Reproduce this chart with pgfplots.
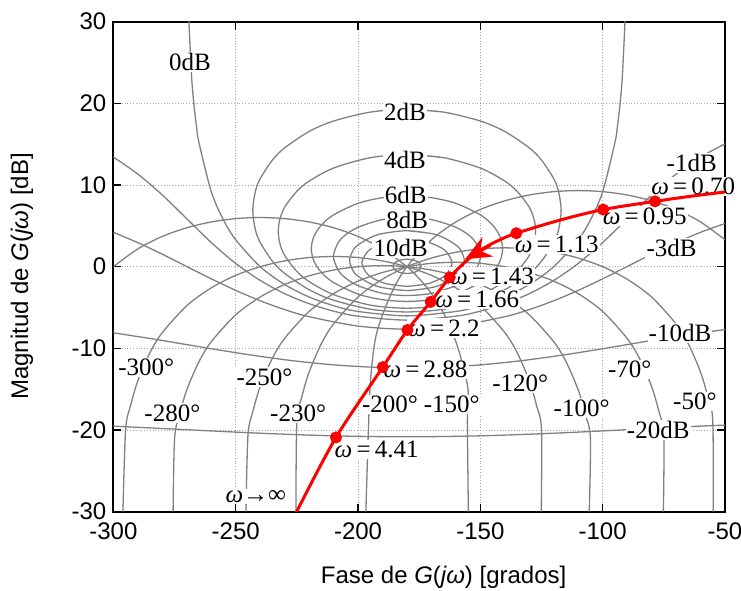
\documentclass[border=0pt]{standalone}
\usepackage{pgfplots}
\pgfplotsset{compat=1.18}
\usepackage{fontspec}
\setmainfont{Liberation Sans}
\newfontfamily\lblfont{Liberation Serif}
\usetikzlibrary{arrows.meta}
\tikzset{lbl/.style={fill=white, inner sep=0.6pt, font=\lblfont\fontsize{12.5}{14}\selectfont}}
\pgfplotsset{ncurve/.style={gray, line width=0.65pt, smooth}}

\begin{document}
\begin{tikzpicture}
\useasboundingbox (-56.7pt,-39.2pt) rectangle (313.8pt,255.85pt);
\begin{axis}[
  scale only axis, width=305.8pt, height=245pt,
  xmin=-300, xmax=-50, ymin=-30, ymax=30,
  xtick={-300,-250,...,-50}, ytick={-30,-20,...,30},
  tick align=inside, tick pos=both, major tick length=4pt,
  tick style={black, line width=0.6pt},
  grid=major, major grid style={densely dotted, gray!70, line width=0.4pt},
  axis line style={black, line width=1pt},
  /pgf/number format/assume math mode=true,
  ticklabel style={font=\fontsize{12}{14}\selectfont},
  xticklabel style={yshift=-2pt},
  xlabel={Fase de \textit{G}(\textit{jω}) [grados]},
  ylabel={Magnitud de \textit{G}(\textit{jω}) [dB]},
  xlabel style={font=\fontsize{12}{14}\selectfont, at={(axis description cs:0.54,-0.1333)}, anchor=center},
  ylabel style={font=\fontsize{12}{14}\selectfont, at={(axis description cs:-0.1494,0.48)}, anchor=center},
  clip mode=individual,
]
% closed-loop magnitude contours
% 0 dB
\addplot[ncurve] coordinates {(-269.1,30.06) (-269,29.14) (-268,23.12) (-267,19.60) (-266,17.11) (-265,15.17) (-260,9.19) (-255,5.72) (-250,3.30) (-240,0) (-230,-2.18) (-220,-3.71) (-210,-4.77) (-200,-5.48) (-180,-6.02) (-160,-5.48) (-150,-4.77) (-140,-3.71) (-130,-2.18) (-120,0) (-110,3.30) (-105,5.72) (-100,9.19) (-95,15.17) (-94,17.11) (-93,19.60) (-92,23.12) (-91,29.14) (-90.9,30.06)};
% 1 dB
\addplot[ncurve] coordinates {(-180,19.27) (-165,18.93) (-150,17.84) (-140,16.56) (-130,14.55) (-125,13.06) (-120,10.77) (-118,9.17) (-116.97,6.87) (-118,4.57) (-120,2.97) (-125,0.68) (-130,-0.82) (-140,-2.82) (-150,-4.10) (-165,-5.20) (-180,-5.54) (-195,-5.20) (-210,-4.10) (-220,-2.82) (-230,-0.82) (-235,0.68) (-240,2.97) (-242,4.57) (-243.03,6.87) (-242,9.17) (-240,10.77) (-235,13.06) (-230,14.55) (-220,16.56) (-210,17.84) (-195,18.93) (-180,19.27) (-165,18.93)};
% 2 dB
\addplot[ncurve] coordinates {(-180,13.74) (-165,13.35) (-150,12.08) (-140,10.48) (-135,9.24) (-130,7.28) (-128,5.75) (-127.41,4.33) (-128,2.91) (-130,1.38) (-135,-0.58) (-140,-1.82) (-150,-3.42) (-165,-4.70) (-180,-5.08) (-195,-4.70) (-210,-3.42) (-220,-1.82) (-225,-0.58) (-230,1.38) (-232,2.91) (-232.59,4.33) (-232,5.75) (-230,7.28) (-225,9.24) (-220,10.48) (-210,12.08) (-195,13.35) (-180,13.74) (-165,13.35)};
% 4 dB
\addplot[ncurve] coordinates {(-180,8.66) (-170,8.45) (-160,7.76) (-150,6.35) (-145,5.09) (-142,3.74) (-140.88,2.20) (-142,0.67) (-145,-0.69) (-150,-1.94) (-160,-3.35) (-170,-4.04) (-180,-4.25) (-190,-4.04) (-200,-3.35) (-210,-1.94) (-215,-0.69) (-218,0.67) (-219.12,2.20) (-218,3.74) (-215,5.09) (-210,6.35) (-200,7.76) (-190,8.45) (-180,8.66) (-170,8.45)};
% 6 dB
\addplot[ncurve] coordinates {(-180,6.04) (-170,5.77) (-160,4.83) (-155,3.92) (-152,3.01) (-149.92,1.26) (-152,-0.49) (-155,-1.41) (-160,-2.32) (-170,-3.26) (-180,-3.53) (-190,-3.26) (-200,-2.32) (-205,-1.41) (-208,-0.49) (-210.08,1.26) (-208,3.01) (-205,3.92) (-200,4.83) (-190,5.77) (-180,6.04) (-170,5.77)};
% 8 dB
\addplot[ncurve] coordinates {(-180,4.41) (-170,4.06) (-165,3.56) (-160,2.66) (-158,2.02) (-156.54,0.75) (-158,-0.52) (-160,-1.16) (-165,-2.07) (-170,-2.56) (-180,-2.91) (-190,-2.56) (-195,-2.07) (-200,-1.16) (-202,-0.52) (-203.46,0.75) (-202,2.02) (-200,2.66) (-195,3.56) (-190,4.06) (-180,4.41) (-170,4.06)};
% 10 dB
\addplot[ncurve] coordinates {(-180,3.30) (-172,3.02) (-168,2.62) (-164,1.87) (-161.57,0.46) (-164,-0.96) (-168,-1.70) (-172,-2.11) (-180,-2.39) (-188,-2.11) (-192,-1.70) (-196,-0.96) (-198.43,0.46) (-196,1.87) (-192,2.62) (-188,3.02) (-180,3.30) (-172,3.02)};
% 20 dB
\addplot[ncurve] coordinates {(-180,0.92) (-177,0.79) (-175,0.47) (-174.26,0.04) (-175,-0.38) (-177,-0.70) (-180,-0.83) (-183,-0.70) (-185,-0.38) (-185.74,0.04) (-185,0.47) (-183,0.79) (-180,0.92) (-177,0.79)};
% -1 dB
\addplot[ncurve] coordinates {(-300,13.42) (-290,11.34) (-280,8.78) (-270,5.87) (-260,2.96) (-250,0.40) (-240,-1.68) (-230,-3.30) (-220,-4.53) (-210,-5.44) (-200,-6.06) (-180,-6.54) (-160,-6.06) (-150,-5.44) (-140,-4.53) (-130,-3.30) (-120,-1.68) (-110,0.40) (-100,2.96) (-90,5.87) (-80,8.78) (-70,11.34) (-60,13.42) (-50,15.04)};
% -3 dB
\addplot[ncurve] coordinates {(-300,4.21) (-290,2.94) (-280,1.53) (-270,0.02) (-260,-1.48) (-250,-2.90) (-240,-4.17) (-230,-5.25) (-220,-6.12) (-200,-7.27) (-180,-7.65) (-160,-7.27) (-140,-6.12) (-130,-5.25) (-120,-4.17) (-110,-2.90) (-100,-1.48) (-90,0.02) (-80,1.53) (-70,2.94) (-60,4.21) (-50,5.29)};
% -10 dB
\addplot[ncurve] coordinates {(-300,-8.10) (-285,-8.79) (-270,-9.54) (-255,-10.29) (-240,-10.98) (-225,-11.57) (-210,-12.02) (-195,-12.29) (-180,-12.39) (-165,-12.29) (-150,-12.02) (-135,-11.57) (-120,-10.98) (-105,-10.29) (-90,-9.54) (-75,-8.79) (-60,-8.10) (-50,-7.70)};
% -20 dB
\addplot[ncurve] coordinates {(-300,-19.52) (-270,-19.96) (-240,-20.39) (-210,-20.71) (-180,-20.83) (-150,-20.71) (-120,-20.39) (-90,-19.96) (-60,-19.52) (-50,-19.40)};

% closed-loop phase contours
\addplot[ncurve] coordinates {(-196.8,-30) (-195.6,-18.5) (-194.8,-13.5) (-193,-8.96) (-190,-5.89) (-185,-2.42) (-180,0) (-170,3.30) (-160,5.48) (-150,7.01) (-140,8.07) (-130,8.78) (-120,9.19) (-110,9.32) (-100,9.19) (-90,8.78) (-80,8.07) (-70,7.01) (-60,5.48) (-50,3.30)};
\addplot[ncurve] coordinates {(-225.4,-30) (-225,-18.88) (-223,-15.97) (-220,-12.90) (-215,-9.43) (-210,-7.01) (-200,-3.71) (-190,-1.53) (-180,0) (-170,1.06) (-160,1.77) (-150,2.18) (-140,2.31) (-130,2.18) (-120,1.77) (-110,1.06) (-100,0) (-90,-1.53) (-80,-3.71) (-70,-7.01) (-65,-9.43) (-60,-12.90) (-57,-15.97) (-55,-18.88) (-54.8,-30)};
\addplot[ncurve] coordinates {(-245.8,-30) (-245,-20.65) (-243,-17.74) (-240,-14.67) (-235,-11.20) (-230,-8.78) (-220,-5.48) (-210,-3.30) (-200,-1.77) (-190,-0.71) (-180,0) (-170,0.41) (-160,0.54) (-150,0.41) (-140,0) (-130,-0.71) (-120,-1.77) (-110,-3.30) (-100,-5.48) (-90,-8.78) (-85,-11.20) (-80,-14.67) (-77,-17.74) (-75,-20.65) (-75.2,-30)};
\addplot[ncurve] coordinates {(-275.6,-30) (-275,-21.06) (-273,-18.15) (-270,-15.08) (-265,-11.61) (-260,-9.19) (-250,-5.89) (-240,-3.71) (-230,-2.18) (-220,-1.12) (-210,-0.41) (-200,0) (-190,0.13) (-180,0) (-170,-0.41) (-160,-1.12) (-150,-2.18) (-140,-3.71) (-130,-5.89) (-120,-9.19) (-115,-11.61) (-110,-15.08) (-107,-18.15) (-105,-21.06) (-105.5,-30)};
\addplot[ncurve] coordinates {(-296.1,-30) (-295,-19.94) (-293,-17.03) (-290,-13.96) (-285,-10.49) (-280,-8.07) (-270,-4.77) (-260,-2.59) (-250,-1.06) (-240,0) (-230,0.71) (-220,1.12) (-210,1.25) (-200,1.12) (-190,0.71) (-180,0) (-170,-1.06) (-160,-2.59) (-150,-4.77) (-140,-8.07) (-135,-10.49) (-130,-13.96) (-127,-17.03) (-125,-19.94) (-125.1,-30)};
\addplot[ncurve] coordinates {(-300,0) (-290,2.18) (-280,3.71) (-270,4.77) (-260,5.48) (-250,5.89) (-240,6.02) (-230,5.89) (-220,5.48) (-210,4.77) (-200,3.71) (-190,2.18) (-180,0) (-175,-1.46) (-170,-3.30) (-165,-5.72) (-160,-9.19) (-157,-12.26) (-155,-15.17) (-155.3,-19) (-154.9,-30)};

% contour labels
\node[lbl] at (axis cs:-268.7,25.1) {0dB};
\node[lbl] at (axis cs:-180.8,18.9) {2dB};
\node[lbl] at (axis cs:-180.8,13.1) {4dB};
\node[lbl] at (axis cs:-180.5,8.8) {6dB};
\node[lbl] at (axis cs:-179.9,5.7) {8dB};
\node[lbl] at (axis cs:-182.6,2.25) {10dB};
\node[lbl] at (axis cs:-63.6,12.7) {-1dB};
\node[lbl] at (axis cs:-71.8,2.25) {-3dB};
\node[lbl] at (axis cs:-68.4,-8.1) {-10dB};
\node[lbl] at (axis cs:-77.3,-20.0) {-20dB};
\node[lbl] at (axis cs:-286.6,-12.3) {-300°};
\node[lbl] at (axis cs:-275.9,-17.9) {-280°};
\node[lbl] at (axis cs:-238.2,-13.5) {-250°};
\node[lbl] at (axis cs:-224.5,-18.0) {-230°};
\node[lbl] at (axis cs:-186.9,-16.9) {-200°};
\node[lbl] at (axis cs:-161.7,-16.9) {-150°};
\node[lbl] at (axis cs:-133.7,-14.3) {-120°};
\node[lbl] at (axis cs:-108.6,-17.3) {-100°};
\node[lbl] at (axis cs:-88.9,-12.6) {-70°};
\node[lbl] at (axis cs:-62.3,-16.5) {-50°};
% frequency labels
\node[lbl] at (axis cs:-241.8,-28.1) {\textit{ω}→∞};
\node[lbl] at (axis cs:-63.0,9.8) {\textit{ω}\,=\,0.70};
\node[lbl] at (axis cs:-82.8,6.2) {\textit{ω}\,=\,0.95};
\node[lbl] at (axis cs:-118.8,2.7) {\textit{ω}\,=\,1.13};
\node[lbl] at (axis cs:-145.2,-1.2) {\textit{ω}\,=\,1.43};
\node[lbl] at (axis cs:-151.3,-4.0) {\textit{ω}\,=\,1.66};
\node[lbl] at (axis cs:-164.9,-7.5) {\textit{ω}\,=\,2.2};
\node[lbl] at (axis cs:-172.4,-12.6) {\textit{ω}\,=\,2.88};
\node[lbl] at (axis cs:-192.4,-22.4) {\textit{ω}\,=\,4.41};

% G(jw) locus
\addplot[red, line width=1.5pt, smooth] coordinates {(-50,9.15) (-64.7,8.6) (-78.6,8.0) (-99.8,7.0) (-117.9,5.67) (-135.3,4.1) (-142,3.3) (-149,2.2) (-155,0.9) (-162.5,-1.3) (-170.3,-4.3) (-179.8,-7.75) (-189.9,-12.3) (-209,-20.9) (-225.1,-30)};
\addplot[red, only marks, mark=*, mark size=2.8pt] coordinates {(-78.6,8.0) (-99.8,7.0) (-135.3,4.1) (-162.5,-1.3) (-170.3,-4.3) (-179.8,-7.75) (-189.9,-12.3) (-209,-20.9)};
\addplot[red, line width=1.5pt, -{Stealth[length=13pt,width=11pt]}] coordinates {(-146,2.6) (-156.3,0.9)};
\end{axis}
\end{tikzpicture}
\end{document}
